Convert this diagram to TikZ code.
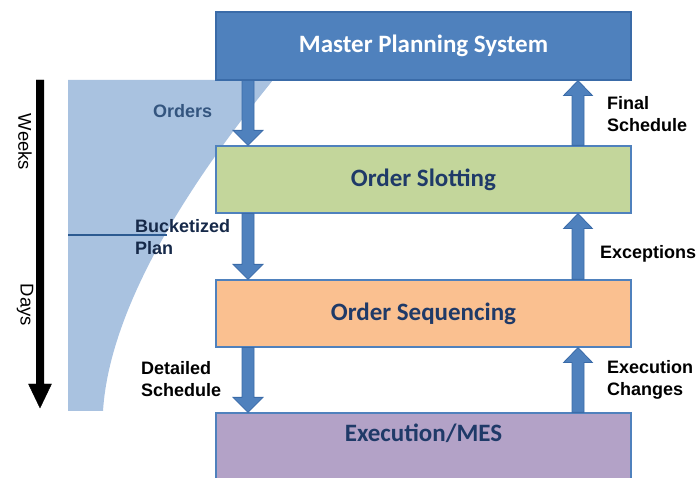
\documentclass[tikz,border=0pt]{standalone}
\usepackage{fontspec}
\setmainfont{Liberation Sans}
\newfontfamily\titlefont{Carlito}
\usetikzlibrary{calc}
\definecolor{mpsblue}{HTML}{4F81BD}
\definecolor{mpsedge}{HTML}{3A6BA8}
\definecolor{slotgreen}{HTML}{C3D69B}
\definecolor{seqorange}{HTML}{FAC090}
\definecolor{exepurple}{HTML}{B3A2C7}
\definecolor{areablue}{HTML}{A9C2E0}
\definecolor{navy}{HTML}{1F3A68}
\definecolor{labelblue}{HTML}{34557F}
\definecolor{linenavy}{HTML}{2C5A91}
\tikzset{
  sysbox/.style={draw=mpsblue, line width=1.2pt, minimum width=415pt, minimum height=67pt,
    inner sep=0pt, font=\titlefont\bfseries\fontsize{25}{30}\selectfont, text=navy},
  flowlabel/.style={anchor=west, inner sep=0pt, align=left, font=\bfseries\fontsize{18}{22}\selectfont},
  blockarr/.style={fill=mpsblue, draw=mpsedge, line width=0.8pt, line join=miter},
  timearr/.style={fill=black},
  timelabel/.style={rotate=-90, inner sep=0pt, font=\fontsize{18.5}{22}\selectfont},
}
% #1 style, #2 start, #3 tip, #4 signed head length, #5 shaft half width, #6 head half width
\newcommand{\blkarrow}[6]{%
  \filldraw[#1] ($(#2)+(-#5,0)$) -- ($(#3)+(-#5,#4)$) -- ($(#3)+(-#6,#4)$) -- (#3)
    -- ($(#3)+(#6,#4)$) -- ($(#3)+(#5,#4)$) -- ($(#2)+(#5,0)$) -- cycle;}
\begin{document}
\begin{tikzpicture}[x=1pt,y=1pt]
\useasboundingbox (0,0) rectangle (697,-478);
\clip (0,0) rectangle (697,-478);
% horizon area
\fill[areablue] (68,-80) -- (273,-80) .. controls (200,-170) and (110,-300) .. (103,-411) -- (68,-411) -- cycle;
\draw[linenavy, line width=2.2pt] (68,-235) -- (167,-235);
% boxes
\node[sysbox, fill=mpsblue, draw=mpsedge, text=white, minimum height=68pt] (mps) at (423.5,-46) {Master Planning System};
\node[sysbox, fill=slotgreen] (slot) at (423.5,-179.5) {Order Slotting};
\node[sysbox, fill=seqorange] (seq) at (423.5,-313.5) {Order Sequencing};
\node[sysbox, fill=exepurple, minimum height=80pt] (exe) at (423.5,-453) {};
\node[inner sep=0pt, font=\titlefont\bfseries\fontsize{25}{30}\selectfont, text=navy] (exelabel) at (423.5,-433) {Execution/MES};
% arrow columns
\coordinate (Lx) at (248,0);
\coordinate (Rx) at (578,0);
\blkarrow{blockarr}{mps.south -| Lx}{slot.north -| Lx}{15}{6}{15}
\blkarrow{blockarr}{slot.south -| Lx}{seq.north -| Lx}{15}{6}{15}
\blkarrow{blockarr}{seq.south -| Lx}{exe.north -| Lx}{15}{6}{15}
\blkarrow{blockarr}{slot.north -| Rx}{mps.south -| Rx}{-15}{6}{14.5}
\blkarrow{blockarr}{seq.north -| Rx}{slot.south -| Rx}{-15}{6}{14.5}
\blkarrow{blockarr}{exe.north -| Rx}{seq.south -| Rx}{-15}{6}{14.5}
% labels
\node[flowlabel, text=labelblue] (orders) at (153,-111) {Orders};
\node[flowlabel, text=navy!70!black] (bucket) at (135,-237) {Bucketized\\Plan};
\node[flowlabel] (detailed) at (141,-379) {Detailed\\Schedule};
\node[flowlabel] (final) at (607,-114) {Final\\Schedule};
\node[flowlabel] (except) at (600,-254) {Exceptions};
\node[flowlabel] (execchg) at (607,-380) {Execution\\Changes};
% time axis
\coordinate (ttop) at (40,-80);
\coordinate (tbot) at (40,-408);
\blkarrow{timearr}{ttop}{tbot}{24}{3.8}{11.5}
\node[timelabel] (weeks) at (25,-142) {Weeks};
\node[timelabel] (days) at (25,-305) {Days};
\end{tikzpicture}
\end{document}
